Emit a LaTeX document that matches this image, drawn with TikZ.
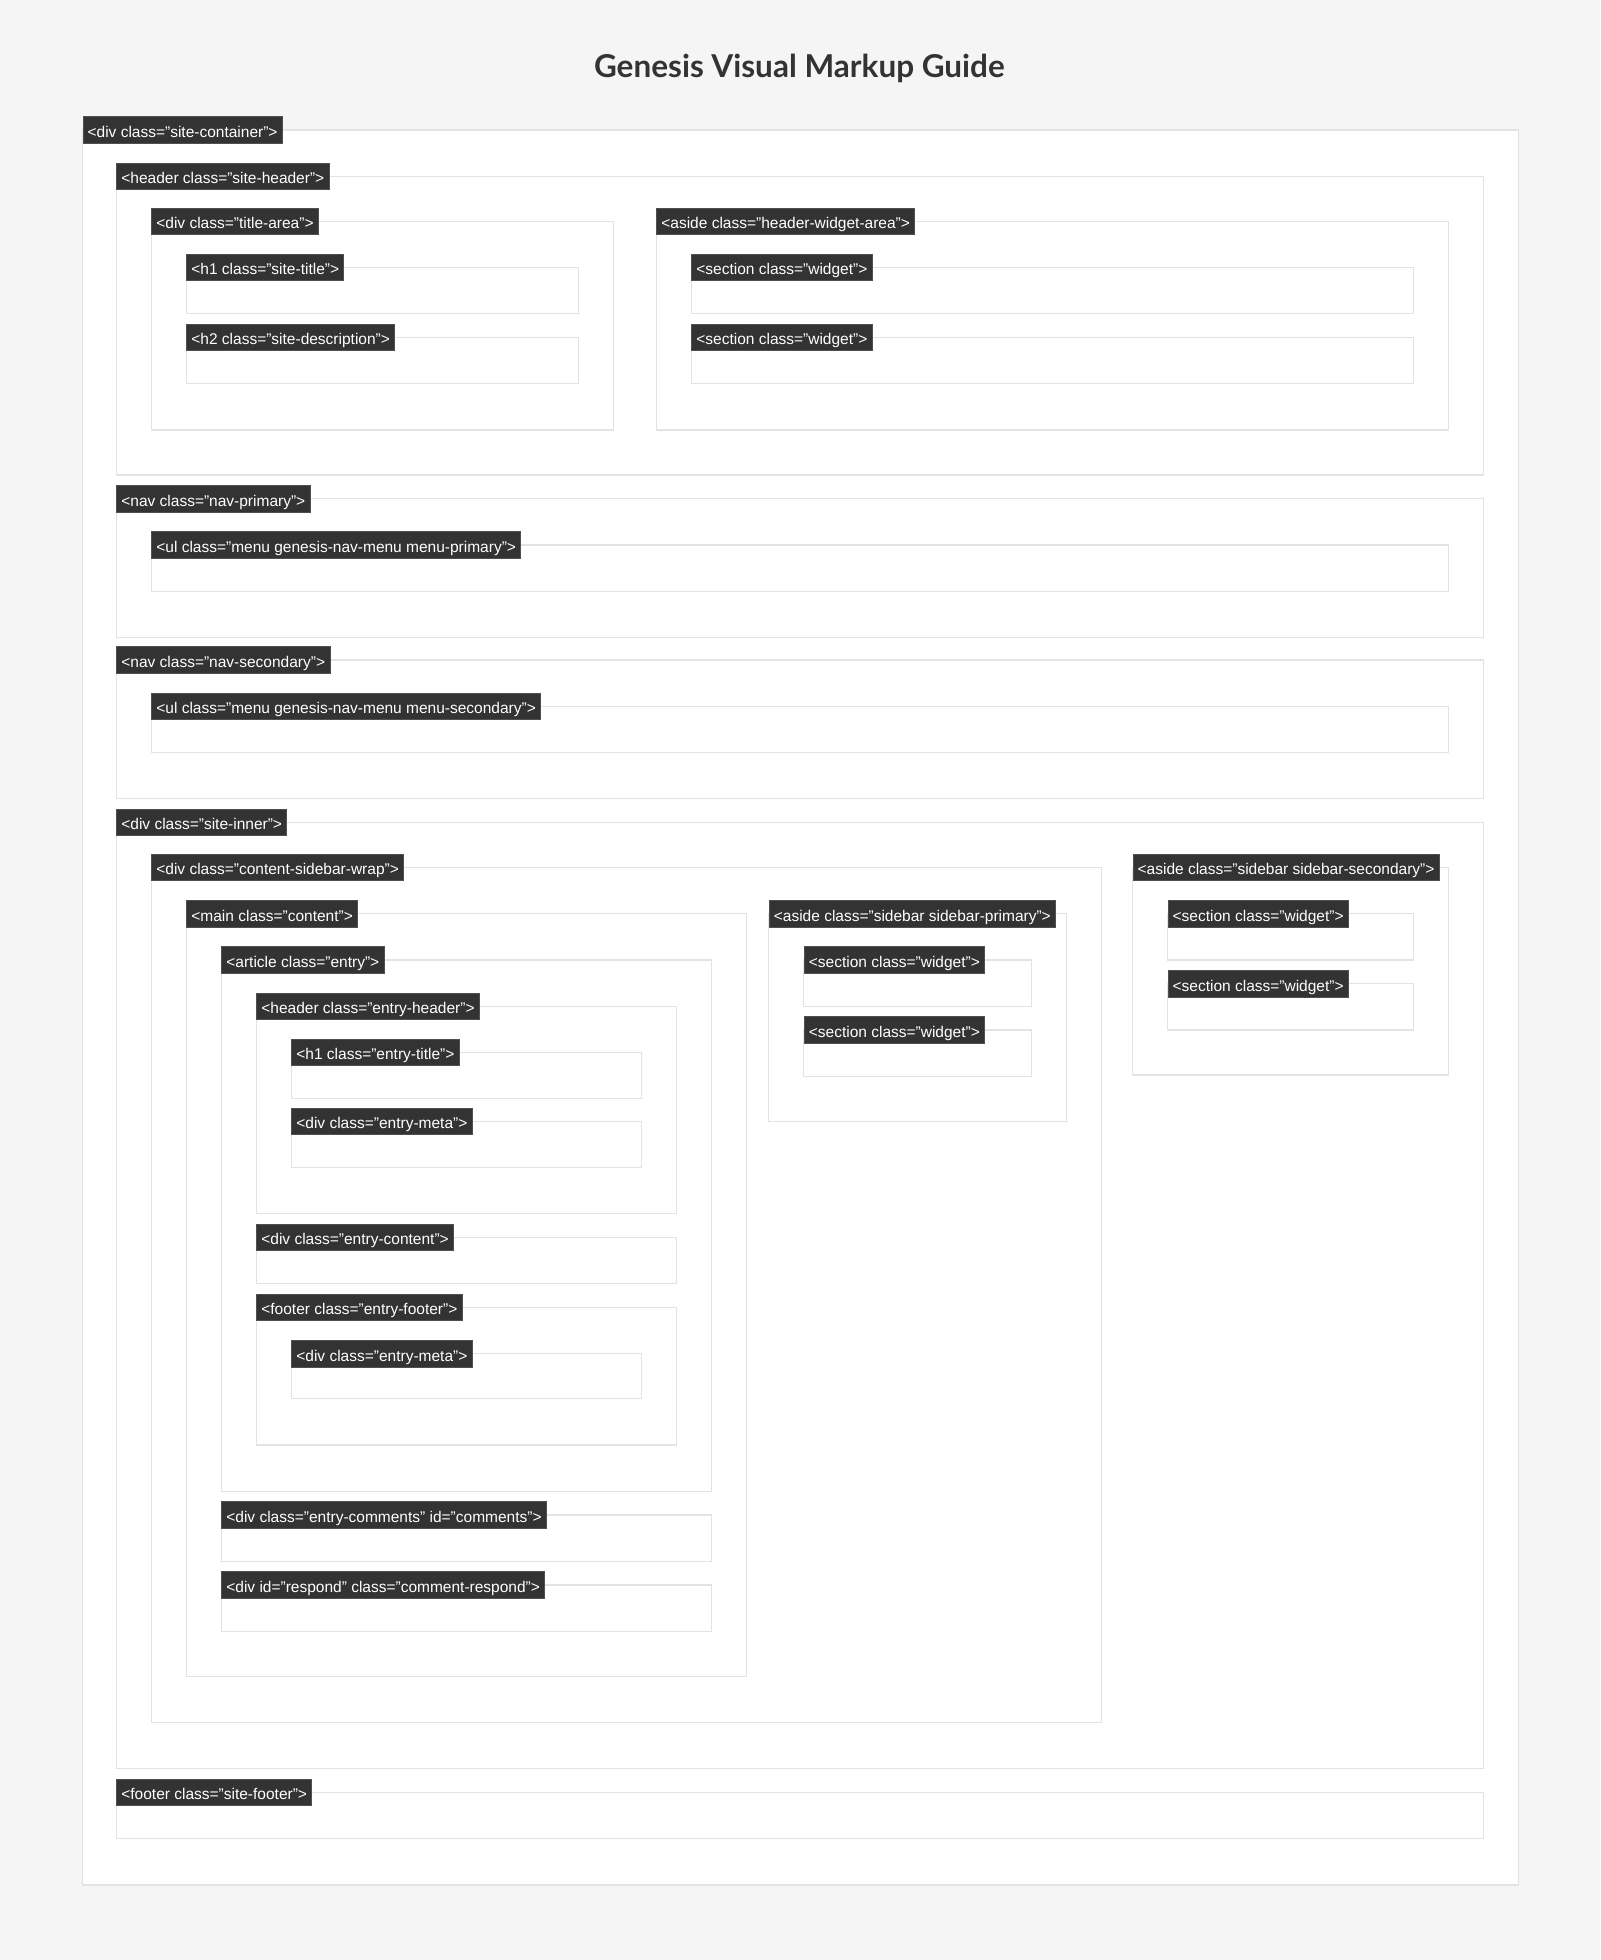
\documentclass[tikz,border=0pt]{standalone}
\usepackage{fontspec}
\setmainfont{Liberation Sans}
\newfontfamily\titlefont{Lato}
\definecolor{pagebg}{HTML}{F5F5F5}
\definecolor{boxline}{HTML}{E3E3E3}
\definecolor{tagfill}{HTML}{333333}
\definecolor{tagline}{HTML}{505050}
\definecolor{titlecol}{HTML}{333333}
\begin{document}
\begin{tikzpicture}[x=1pt,y=-1pt,
    markbox/.style={draw=boxline,fill=white,line width=1pt},
    tag/.style={anchor=west,fill=tagfill,draw=tagline,line width=0.6pt,text=white,
        font=\fontsize{12.4}{14}\selectfont,inner xsep=3.8pt,inner ysep=0pt,
        text height=16.4pt,text depth=4.8pt}]
        % page
        \fill[pagebg] (0,0) rectangle (1280,1568);
        \useasboundingbox (0,0) rectangle (1280,1568);
        \node[anchor=base,text=titlecol,font=\titlefont\bfseries\fontsize{25.2}{30}\selectfont] (title) at (639.5,61.8) {Genesis Visual Markup Guide};
        % boxes, outer ones first
        \foreach \id/\xa/\ya/\xb/\yb/\txt in {
            container/66/104/1215/1508/{<div class="site-container">},
            siteheader/93/141/1187/380/{<header class="site-header">},
            titlearea/121/177/491/344/{<div class="title-area">},
            sitetitle/149/214/463/251/{<h1 class="site-title">},
            sitedesc/149/270/463/307/{<h2 class="site-description">},
            widgetarea/525/177/1159/344/{<aside class="header-widget-area">},
            widget1/553/214/1131/251/{<section class="widget">},
            widget2/553/270/1131/307/{<section class="widget">},
            navprimary/93/399/1187/510/{<nav class="nav-primary">},
            menuprimary/121/436/1159/473/{<ul class="menu genesis-nav-menu menu-primary">},
            navsecondary/93/528/1187/639/{<nav class="nav-secondary">},
            menusecondary/121/565/1159/602/{<ul class="menu genesis-nav-menu menu-secondary">},
            siteinner/93/658/1187/1415/{<div class="site-inner">},
            wrap/121/694/881/1378/{<div class="content-sidebar-wrap">},
            content/149/731/597/1341/{<main class="content">},
            entry/177/768/569/1193/{<article class="entry">},
            entryheader/205/805/541/971/{<header class="entry-header">},
            entrytitle/233/842/513/879/{<h1 class="entry-title">},
            entrymeta1/233/897/513/934/{<div class="entry-meta">},
            entrycontent/205/990/541/1027/{<div class="entry-content">},
            entryfooter/205/1046/541/1156/{<footer class="entry-footer">},
            entrymeta2/233/1083/513/1119/{<div class="entry-meta">},
            comments/177/1212/569/1249/{<div class="entry-comments" id="comments">},
            respond/177/1268/569/1305/{<div id="respond" class="comment-respond">},
            sbprimary/615/731/853/897/{<aside class="sidebar sidebar-primary">},
            widget3/643/768/825/805/{<section class="widget">},
            widget4/643/824/825/861/{<section class="widget">},
            sbsecondary/906/694/1159/860/{<aside class="sidebar sidebar-secondary">},
            widget5/934/731/1131/768/{<section class="widget">},
            widget6/934/787/1131/824/{<section class="widget">},
            sitefooter/93/1434/1187/1471/{<footer class="site-footer">}}
        {
            \draw[markbox] (\xa,\ya) rectangle (\xb,\yb);
            \node[tag] (\id) at (\xa,\ya) {\txt};
        }
\end{tikzpicture}
\end{document}
